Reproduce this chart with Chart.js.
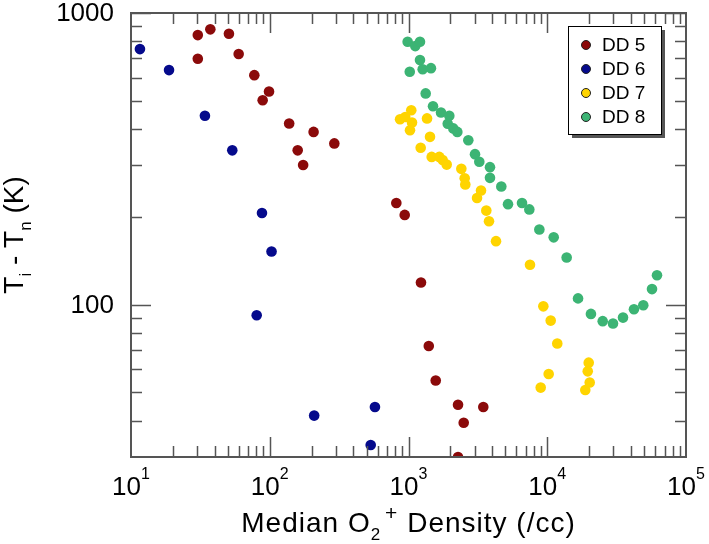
<!DOCTYPE html>
<html>
<head>
<meta charset="utf-8">
<script src="https://cdn.jsdelivr.net/npm/chart.js@4.4.0/dist/chart.umd.min.js"></script>
<style>
  html, body { margin: 0; padding: 0; background: #fff; }
</style>
</head>
<body>
<canvas id="chart" width="709" height="544"></canvas>
<script>
// data (x = median O2+ density /cc, y = Ti - Tn in K)
const dd5X = [30.3, 37.3, 50.8, 30.3, 59.7, 77.4, 98.8, 88.9, 138, 207, 159, 174, 292, 817, 939, 1230, 1400, 1571, 2275, 3460, 2500, 2275];
const dd5Y = [840, 879, 849, 697, 723, 612, 538, 502, 418, 391, 338, 301, 357, 223, 203, 119, 72.1, 54.9, 45.3, 44.5, 39.3, 30.0];

const dd6X = [15.1, 11.6, 18.8, 34.1, 53.7, 87.9, 103, 80.5, 209, 573, 534];
const dd6Y = [1040, 752, 637, 444, 338, 206, 152, 91.9, 41.6, 44.5, 33.0];

const dd7X = [1047, 869, 948, 1060, 1025, 1360, 1429, 1224, 1469, 1667, 1763, 1885, 2403, 2541, 2566, 3331, 3118, 3637, 3803, 4273, 7510, 9370, 10590, 11810, 10240, 8970, 19900, 19580, 20230, 18800];
const dd7Y = [464, 432, 440, 421, 396, 435, 376, 345, 321, 321, 313, 302, 292, 271, 258, 246, 232, 210, 193, 165, 137, 98.6, 88.1, 73.5, 57.8, 51.9, 63.2, 59.0, 54.0, 50.9];

const dd8X = [986, 1119, 1210, 1021, 1210, 1265, 1452, 1330, 1502, 1715, 1968, 1918, 2104, 2248, 2698, 3015, 3238, 3866, 3866, 4665, 5213, 6577, 7427, 8770, 11130, 13800, 16670, 20650, 25100, 29780, 35160, 42170, 49220, 56890, 61800];
const dd8Y = [797, 770, 797, 629, 690, 641, 647, 530, 479, 456, 444, 417, 402, 391, 366, 328, 309, 296, 272, 254, 221, 223, 212, 181, 170, 145, 105, 92.9, 87.7, 86.1, 90.2, 96.4, 99.5, 113, 126];

const seriesNames = ["DD 5", "DD 6", "DD 7", "DD 8"];
const seriesColors = ["#8b0a0a", "#050a8c", "#ffd400", "#3cb474"];

const xDecades = [1, 2, 3, 4, 5];      // 10^1 .. 10^5
const yMajorTicks = [100, 1000];
const yMinorTicks = [40, 50, 60, 70, 80, 90, 200, 300, 400, 500, 600, 700, 800, 900];

const FONT = '"Liberation Sans", Arial, Helvetica, sans-serif';
const AXIS_COLOR = "#555";

function toPoints(xs, ys) {
  return xs.map((x, i) => ({ x: x, y: ys[i] }));
}

// draws a list of text pieces (with sub/superscripts) centered at x, on baseline y
function drawRuns(ctx, runs, x, y, spacing) {
  ctx.letterSpacing = (spacing || 0) + "px";
  let total = 0;
  runs.forEach(r => {
    ctx.font = r.size + "px " + FONT;
    r.w = ctx.measureText(r.text).width + (r.pad || 0);
    total += r.w;
  });
  let cx = x - total / 2;
  ctx.textAlign = "left";
  ctx.textBaseline = "alphabetic";
  runs.forEach(r => {
    ctx.font = r.size + "px " + FONT;
    ctx.fillText(r.text, cx, y + (r.dy || 0));
    cx += r.w;
  });
  ctx.letterSpacing = "0px";
}

// frame, inward ticks, labels, titles and the boxed legend
const framePlugin = {
  id: "frame",
  afterDraw(chart) {
    const ctx = chart.ctx;
    const a = chart.chartArea;
    const xs = chart.scales.x;
    const ys = chart.scales.y;
    ctx.save();
    ctx.strokeStyle = AXIS_COLOR;
    ctx.fillStyle = "#000";

    // x ticks (bottom and top)
    ctx.lineWidth = 1.5;
    ctx.beginPath();
    for (let d = 1; d <= 4; d++) {
      for (let m = 1; m <= 9; m++) {
        if (m == 1 && d == 1) continue;
        const px = Math.round(xs.getPixelForValue(m * Math.pow(10, d))) + 0.5;
        const len = m == 1 ? 20 : 11;
        ctx.moveTo(px, a.bottom); ctx.lineTo(px, a.bottom - len);
        ctx.moveTo(px, a.top); ctx.lineTo(px, a.top + len);
      }
    }
    // y ticks (left and right)
    const yTicks = yMajorTicks.map(v => [v, 20]).concat(yMinorTicks.map(v => [v, 11]));
    yTicks.forEach(t => {
      const py = Math.round(ys.getPixelForValue(t[0])) + 0.5;
      ctx.moveTo(a.left, py); ctx.lineTo(a.left + t[1], py);
      ctx.moveTo(a.right, py); ctx.lineTo(a.right - t[1], py);
    });
    ctx.stroke();

    ctx.lineWidth = 2;
    ctx.strokeRect(a.left, a.top, a.right - a.left, a.bottom - a.top);

    // y tick labels
    ctx.font = "26px " + FONT;
    ctx.textAlign = "right";
    ctx.textBaseline = "middle";
    yMajorTicks.forEach(v => {
      ctx.fillText(String(v), a.left - 17, ys.getPixelForValue(v) + 1);
    });

    // x tick labels 10^n
    xDecades.forEach(d => {
      const px = xs.getPixelForValue(Math.pow(10, d));
      drawRuns(ctx, [
        { text: "10", size: 26 },
        { text: String(d), size: 16, dy: -16 }
      ], px, a.bottom + 38);
    });

    // axis titles
    drawRuns(ctx, [
      { text: "Median O", size: 28 },
      { text: "2", size: 17, dy: 8, pad: 4 },
      { text: "+", size: 21, dy: -12 },
      { text: " Density (/cc)", size: 28 }
    ], (a.left + a.right) / 2, a.bottom + 75, 1);

    ctx.save();
    ctx.translate(23, (a.top + a.bottom) / 2);
    ctx.rotate(-Math.PI / 2);
    drawRuns(ctx, [
      { text: "T", size: 28 },
      { text: "i", size: 17, dy: 8 },
      { text: " - T", size: 28 },
      { text: "n", size: 17, dy: 8 },
      { text: " (K)", size: 28 }
    ], 0, 0);
    ctx.restore();

    // legend box with shadow
    const lx = 568, ly = 26, lw = 93, lh = 108;
    ctx.fillStyle = "#555";
    ctx.fillRect(lx + 4, ly + 4, lw, lh);
    ctx.fillStyle = "#fff";
    ctx.fillRect(lx, ly, lw, lh);
    ctx.lineWidth = 1;
    ctx.strokeStyle = "#000";
    ctx.strokeRect(lx + 0.5, ly + 0.5, lw, lh);
    ctx.font = "19px " + FONT;
    ctx.textAlign = "left";
    ctx.textBaseline = "middle";
    chart.data.datasets.forEach((ds, i) => {
      const cy = ly + 19 + i * 24;
      ctx.beginPath();
      ctx.arc(lx + 18, cy, 4.5, 0, Math.PI * 2);
      ctx.fillStyle = ds.backgroundColor;
      ctx.fill();
      ctx.strokeStyle = "#222";
      ctx.lineWidth = 1;
      ctx.stroke();
      ctx.fillStyle = "#000";
      ctx.fillText(ds.label, lx + 34, cy + 1);
    });
    ctx.restore();
  }
};

const datasets = [dd5X, dd6X, dd7X, dd8X].map((xs, i) => {
  const ys = [dd5Y, dd6Y, dd7Y, dd8Y][i];
  return {
    label: seriesNames[i],
    data: toPoints(xs, ys),
    backgroundColor: seriesColors[i],
    borderWidth: 0,
    pointRadius: 5.3,
    pointHoverRadius: 5.3
  };
});

new Chart(document.getElementById("chart"), {
  type: "scatter",
  data: { datasets: datasets },
  options: {
    responsive: false,
    animation: false,
    devicePixelRatio: 1,
    layout: { padding: { left: 131, right: 23, top: 13, bottom: 87 } },
    scales: {
      x: { type: "logarithmic", min: 10, max: 100000, display: false },
      y: { type: "logarithmic", min: 30, max: 1000, display: false }
    },
    plugins: {
      legend: { display: false },
      tooltip: { enabled: false }
    }
  },
  plugins: [framePlugin]
});
</script>
</body>
</html>
